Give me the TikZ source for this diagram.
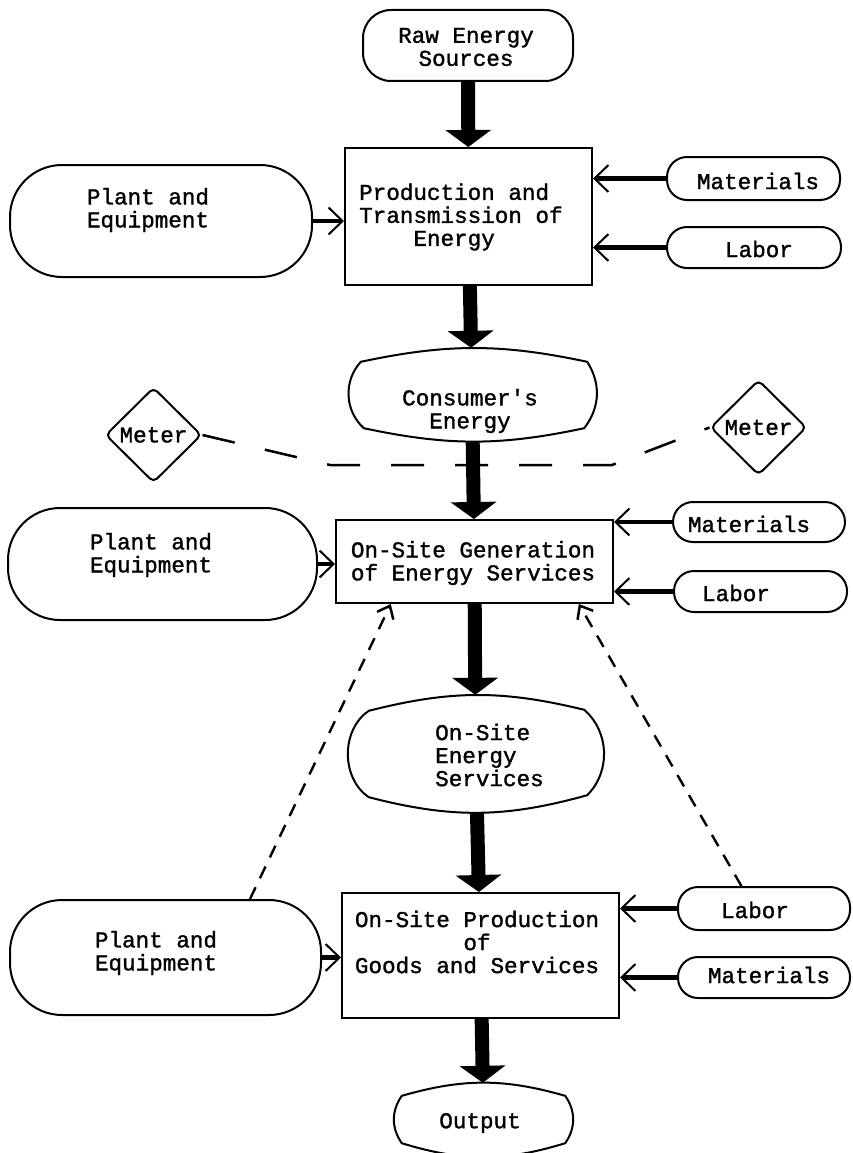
\documentclass[tikz,border=0pt]{standalone}
\usepackage{fontspec}
\setmonofont{Liberation Mono}[FakeBold=1.4]
\usetikzlibrary{arrows.meta,shapes.geometric,calc}
\begin{document}
\begin{tikzpicture}[x=1pt,y=-1pt,
  shp/.style={draw, line width=2pt, inner sep=0pt},
  blob/.style={inner sep=0pt},
  pill/.style={shp, rounded corners=20pt},
  plant/.style={shp, rounded corners=52pt},
  lbl/.style={inner sep=0pt, align=center, font=\ttfamily\fontsize{22.6}{23}\selectfont},
  lbll/.style={lbl, align=left},
  meter/.style={shp, diamond, aspect=1, rounded corners=5pt, minimum width=96pt, minimum height=95pt, font=\ttfamily\fontsize{22.6}{23}\selectfont},
  flow/.style={line width=14pt, -{Triangle[width=45pt,length=17pt]}},
  feed/.style={line width=4.5pt, -{Straight Barb[length=14pt,width=27pt,line width=2pt]}},
  infl/.style={line width=2.4pt, dash pattern=on 13pt off 10pt, -{Straight Barb[length=11pt,width=18pt,line width=2.5pt]}},
  meterline/.style={line width=2.5pt, dash pattern=on 33pt off 31pt}
]
\useasboundingbox (0,0) rectangle (852,1153);

% ---- shapes ----
\node[shp, rounded corners=28pt, minimum width=210pt, minimum height=71pt] (raw) at (468,45.5) {};
\node[shp, minimum width=247pt, minimum height=137pt] (prod) at (468.5,216.5) {};
\node[plant, minimum width=302pt, minimum height=112pt] (p1) at (161,221) {};
\node[pill, minimum width=173pt, minimum height=43pt] (m1) at (753.5,178.5) {};
\node[pill, minimum width=174pt, minimum height=41pt] (l1) at (754,247.5) {};

\node[blob, minimum width=248pt, minimum height=94pt] (ce) at (472,395) {};
\draw[shp] ([shift={(13,14)}]ce.north west) to[bend left=12] ([shift={(-9,14)}]ce.north east)
  to[bend left=35] ([shift={(-12,-14)}]ce.south east) to[bend left=12] ([shift={(16,-14)}]ce.south west)
  to[bend left=45] cycle;

\node[meter] (mL) at (153.5,435) {Meter};
\node[meter] (mR) at (758.5,427.5) {Meter};

\node[shp, minimum width=277pt, minimum height=83pt] (gen) at (474.5,561.5) {};
\node[plant, minimum width=309pt, minimum height=112pt] (p2) at (162.5,564) {};
\node[pill, minimum width=172pt, minimum height=40pt] (m2) at (759,522) {};
\node[pill, minimum width=173pt, minimum height=41pt] (l2) at (760.5,591.5) {};

\node[blob, minimum width=255pt, minimum height=118pt] (oes) at (475.5,754) {};
\draw[shp] ([shift={(21,16)}]oes.north west) to[bend left=14] ([shift={(-19,15)}]oes.north east)
  to[bend left=47] ([shift={(-16,-18)}]oes.south east) to[bend left=15] ([shift={(21,-16)}]oes.south west)
  to[bend left=56] cycle;

\node[shp, minimum width=277pt, minimum height=125pt] (pg) at (480.5,955.5) {};
\node[plant, minimum width=311pt, minimum height=115pt] (p3) at (165.5,957.5) {};
\node[pill, minimum width=172pt, minimum height=43pt] (l3) at (764,908.5) {};
\node[pill, minimum width=172pt, minimum height=41pt] (m3) at (764,977.5) {};

\node[blob, minimum width=179pt, minimum height=74pt] (out) at (483.5,1120) {};
\draw[shp] ([shift={(8,13)}]out.north west) to[bend left=16] ([shift={(-8,13)}]out.north east)
  to[bend left=35] ([shift={(-8,-14)}]out.south east) to[bend left=17] ([shift={(8,-14)}]out.south west)
  to[bend left=35] cycle;

% ---- texts ----
\node[lbl] (rawT) at (466,47) {Raw Energy\\Sources};
\node[lbll, anchor=west] (prodT) at (359,217) {Production and\\Transmission of\\\phantom{xxxx}Energy};
\node[lbl] (p1T) at (148,210) {Plant and\\Equipment};
\node[lbl] (m1T) at (758,181) {Materials};
\node[lbl] (l1T) at (759,249) {Labor};
\node[lbl] (ceT) at (470,411) {Consumer's\\Energy};
\node[lbl] (genT) at (473,563) {On-Site Generation\\of Energy Services};
\node[lbl] (p2T) at (151,555) {Plant and\\Equipment};
\node[lbl] (m2T) at (749,524) {Materials};
\node[lbl] (l2T) at (736,593) {Labor};
\node[lbll, anchor=west] (oesT) at (435,755) {On-Site\\Energy\\Services};
\node[lbl] (pgT) at (477,942) {On-Site Production\\of\\Goods and Services};
\node[lbl] (p3T) at (156,953) {Plant and\\Equipment};
\node[lbl] (l3T) at (755,910) {Labor};
\node[lbl] (m3T) at (769,975) {Materials};
\node[lbl] (outT) at (480,1123) {Output};

% ---- meter line ----
\coordinate (k1) at (330,465);
\coordinate (k2) at (612,465);
\draw[meterline] (mL.east) -- (k1) -- (k2) -- (mR.west);

% ---- main flow ----
\draw[flow] (raw) -- (prod);
\draw[flow] (prod) -- (ce);
\draw[flow] (ce) -- (gen);
\draw[flow] (gen) -- (oes);
\draw[flow] (oes) -- (pg);
\draw[flow] (pg) -- (out);

% ---- inputs ----
\draw[feed] (p1.east) -- (p1.east -| prod.west);
\draw[feed] (m1.west) -- (m1.west -| prod.east);
\draw[feed] (l1.west) -- (l1.west -| prod.east);
\draw[feed] (p2.east) -- (p2.east -| gen.west);
\draw[feed] (m2.west) -- (m2.west -| gen.east);
\draw[feed] (l2.west) -- (l2.west -| gen.east);
\draw[feed] (p3.east) -- (p3.east -| pg.west);
\draw[feed] (l3.west) -- (l3.west -| pg.east);
\draw[feed] (m3.west) -- (m3.west -| pg.east);

% ---- dashed influences ----
\draw[infl] ($(p3.north west)!0.77!(p3.north east)$) -- ($(gen.south west)!0.2!(gen.south east)$);
\draw[infl] ($(l3.north west)!0.37!(l3.north east)$) -- ($(gen.south west)!0.874!(gen.south east)$);
\end{tikzpicture}
\end{document}
